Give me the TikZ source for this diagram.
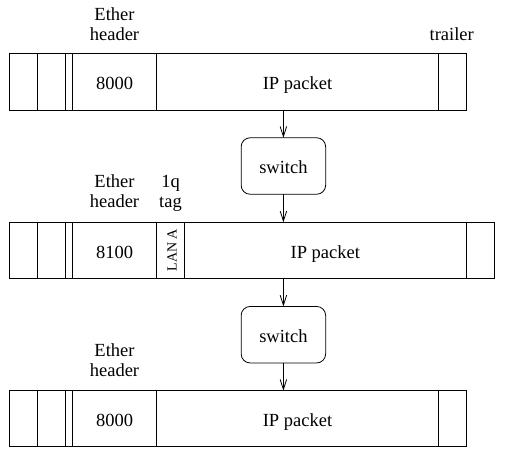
\documentclass[tikz,border=0pt]{standalone}
\usepackage{fontspec}
\setmainfont{Liberation Serif}
\usetikzlibrary{arrows.meta}
\tikzset{
  txt/.style={font=\fontsize{18.5}{20}\selectfont},
  fld/.style={txt, draw, line width=0.8pt, inner sep=0pt, outer sep=0pt, text height=16.3pt, text depth=0pt},
  swbox/.style={txt, draw, line width=0.8pt, rounded corners=9pt, minimum width=84.5pt, minimum height=56.5pt, inner sep=0pt, outer sep=0pt, text height=15.3pt, text depth=0pt},
  lbl/.style={txt, align=center, anchor=base, inner sep=0pt},
  tagtxt/.style={font=\fontsize{14}{14}\selectfont, rotate=90, anchor=base, inner sep=0pt},
  flow/.style={draw, line width=0.8pt, -{Straight Barb[length=10pt,width=6.5pt,line width=0.8pt]}}
}
\newcommand{\fieldnode}[6]{%
  \node[fld, minimum width={#3pt-#2pt}, minimum height={#5pt-#4pt}] (#1) at ({(#2+#3)/2},{(#4+#5)/2}) {#6};}
\begin{document}
\begin{tikzpicture}[x=1pt,y=-1pt]
\useasboundingbox (0,0) rectangle (509,467);
% row 1
\fieldnode{r1a}{9}{37}{53.5}{110}{}
\fieldnode{r1b}{37}{65.3}{53.5}{110}{}
\fieldnode{r1c}{65.3}{72.3}{53.5}{110}{}
\fieldnode{r1et}{72.3}{156.7}{53.5}{110}{8000}
\fieldnode{r1ip}{156.7}{438.3}{53.5}{110}{IP packet}
\fieldnode{r1tr}{438.3}{466.5}{53.5}{110}{}
\node[lbl] (h1) at (114.5,40.7) {Ether\\header};
\node[lbl] (tr1) at (451.7,40.2) {trailer};
% switch 1
\node[swbox] (sw1) at (283.4,166) {switch};
% row 2
\fieldnode{r2a}{9}{37}{222.3}{278.3}{}
\fieldnode{r2b}{37}{65.3}{222.3}{278.3}{}
\fieldnode{r2c}{65.3}{72.3}{222.3}{278.3}{}
\fieldnode{r2et}{72.3}{156.7}{222.3}{278.3}{8100}
\fieldnode{r2tag}{156.7}{184.3}{222.3}{278.3}{}
\fieldnode{r2ip}{184.3}{466.3}{222.3}{278.3}{IP packet}
\fieldnode{r2tr}{466.3}{494.3}{222.3}{278.3}{}
\node[tagtxt] (lana) at (176.5,250.3) {LAN A};
\node[lbl] (h2) at (114.5,207.3) {Ether\\header};
\node[lbl] (tag2) at (170.5,207.3) {1q\\tag};
% switch 2
\node[swbox] (sw2) at (283.4,334.7) {switch};
% row 3
\fieldnode{r3a}{9}{37}{390.7}{446.7}{}
\fieldnode{r3b}{37}{65.3}{390.7}{446.7}{}
\fieldnode{r3c}{65.3}{72.3}{390.7}{446.7}{}
\fieldnode{r3et}{72.3}{156.7}{390.7}{446.7}{8000}
\fieldnode{r3ip}{156.7}{438.3}{390.7}{446.7}{IP packet}
\fieldnode{r3tr}{438.3}{466.3}{390.7}{446.7}{}
\node[lbl] (h3) at (114.5,376.7) {Ether\\header};
% connectors
\draw[flow] (r1ip.south -| sw1.north) -- (sw1.north);
\draw[flow] (sw1.south) -- (sw1.south |- r2ip.north);
\draw[flow] (r2ip.south -| sw2.north) -- (sw2.north);
\draw[flow] (sw2.south) -- (sw2.south |- r3ip.north);
\end{tikzpicture}
\end{document}
